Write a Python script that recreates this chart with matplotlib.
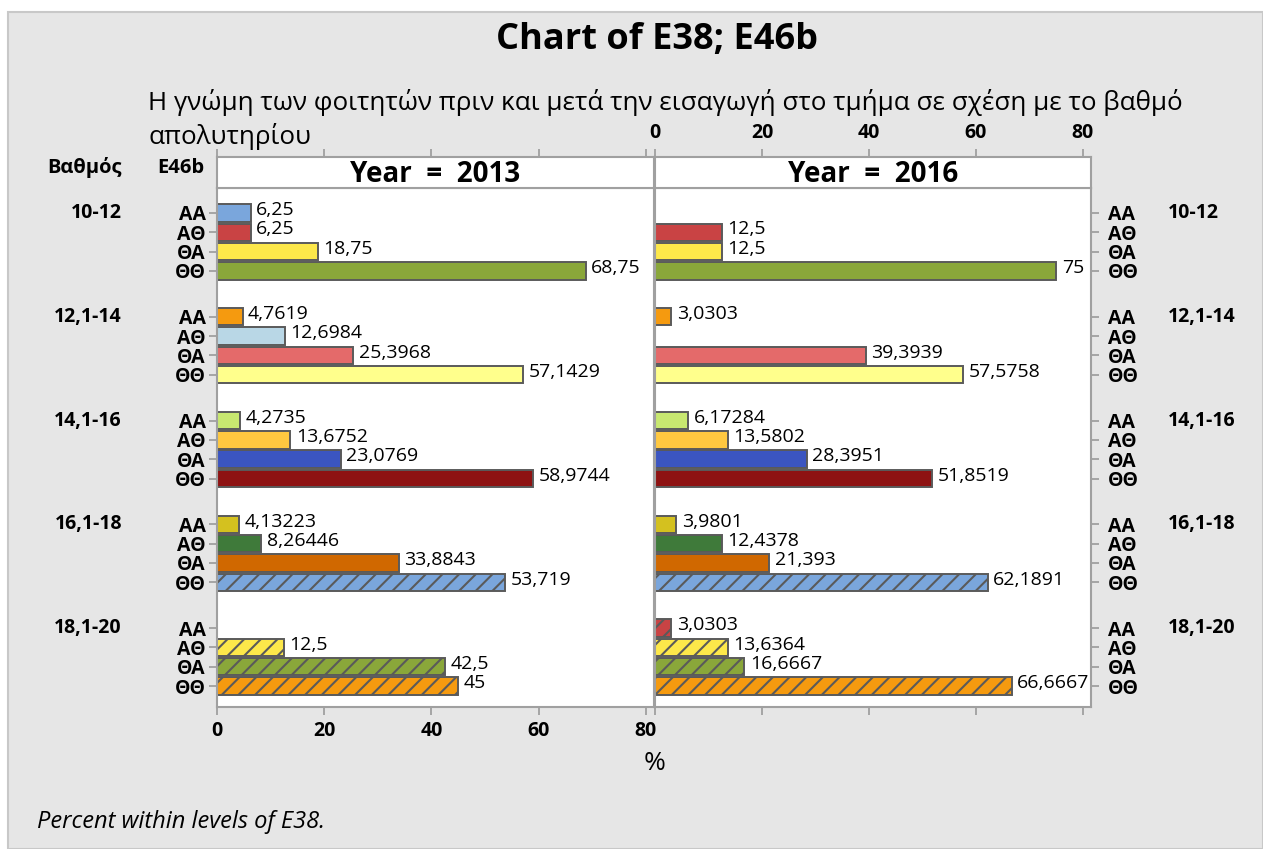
import matplotlib
matplotlib.use('Agg')
import matplotlib.pyplot as plt
from matplotlib.patches import Rectangle
from matplotlib.transforms import blended_transform_factory

plt.rcParams['font.family'] = ['Open Sans', 'DejaVu Sans']
plt.rcParams['hatch.linewidth'] = 1.5

# data (percent within levels of E38)
groups = ['10-12', '12,1-14', '14,1-16', '16,1-18', '18,1-20']
e46b = ['ΑΑ', 'ΑΘ', 'ΘΑ', 'ΘΘ']
years = ['2013', '2016']
pct_2013 = [[6.25, 6.25, 18.75, 68.75],
            [4.7619, 12.6984, 25.3968, 57.1429],
            [4.2735, 13.6752, 23.0769, 58.9744],
            [4.13223, 8.26446, 33.8843, 53.719],
            [None, 12.5, 42.5, 45]]
pct_2016 = [[None, 12.5, 12.5, 75],
            [3.0303, None, 39.3939, 57.5758],
            [6.17284, 13.5802, 28.3951, 51.8519],
            [3.9801, 12.4378, 21.393, 62.1891],
            [3.0303, 13.6364, 16.6667, 66.6667]]
xticks = [0, 20, 40, 60, 80]

# Minitab style fill cycle: 15 solid colours, then the first ones again hatched
fills = ['#7aa6dc', '#c94344', '#fde84a', '#8aa73a', '#f59a0f',
         '#b9d7e6', '#e46a6a', '#ffff8c', '#c8e870', '#ffc840',
         '#3b55c1', '#8e1212', '#d4c11f', '#3f7a3a', '#d06800']

W, H = 1263, 849
fig = plt.figure(figsize=(W / 100, H / 100), dpi=100, facecolor='white')


def fx(px):
    return px / W


def fy(py):
    return 1 - py / H


# gray background panel
bg = Rectangle((fx(8), 0), 1 - fx(8), fy(12), transform=fig.transFigure,
               facecolor='#e6e6e6', edgecolor='#c8c8c8', linewidth=1.5, zorder=-10)
fig.add_artist(bg)

fig.text(fx(657), fy(40), 'Chart of E38; E46b', ha='center', va='center',
         fontsize=26, fontweight='bold')
fig.text(fx(148), fy(103), 'Η γνώμη των φοιτητών πριν και μετά την εισαγωγή στο τμήμα σε σχέση με το βαθμό',
         ha='left', va='center', fontsize=18.7)
fig.text(fx(148), fy(137), 'απολυτηρίου', ha='left', va='center', fontsize=18.7)

fig.text(fx(122), fy(168), 'Βαθμός', ha='right', va='center', fontsize=14.5, fontweight='bold')
fig.text(fx(204), fy(168), 'E46b', ha='right', va='center', fontsize=14.5, fontweight='bold')

gpitch = 5.37
ypos = [g * gpitch + i for g in range(len(groups)) for i in range(len(e46b))]
ylabels = [lab for g in groups for lab in e46b]

panels = [(217, 654, pct_2013), (655, 1091, pct_2016)]
gray = '#a0a0a0'
for k, (x0, x1, data) in enumerate(panels):
    ax = fig.add_axes([fx(x0), fy(707), fx(x1) - fx(x0), fy(188) - fy(707)])
    ax.set_facecolor('white')
    for g in range(len(groups)):
        for i in range(len(e46b)):
            v = data[g][i]
            idx = g * len(e46b) + i
            if v is not None:
                col = fills[idx % len(fills)]
                hatch = '//' if idx >= len(fills) else None
                ax.barh(ypos[idx], v, height=0.9, color=col, edgecolor='#5a5a5a',
                        linewidth=1.4, hatch=hatch, zorder=2)
                ax.annotate(f'{v:g}'.replace('.', ','), (v, ypos[idx]), xytext=(4, 2),
                            textcoords='offset points', ha='left', va='center', fontsize=14)
    ax.set_xlim(0, 81.5)
    ax.set_ylim(25.56, -1.29)
    ax.set_xticks(xticks)
    ax.set_yticks(ypos)
    for s in ax.spines.values():
        s.set_color(gray)
        s.set_linewidth(1.5)
    ax.tick_params(axis='x', length=6, color=gray, width=1.3, labelsize=14, pad=4)
    ax.tick_params(axis='y', length=6, color=gray, width=1.3, labelsize=14, pad=2)
    if k == 0:
        ax.set_yticklabels(ylabels)
        ax.set_xticklabels([str(t) for t in xticks])
    else:
        ax.yaxis.tick_right()
        ax.tick_params(axis='y', pad=6)
        ax.set_yticklabels(ylabels)
        ax.set_xticklabels([])
    for t in ax.get_yticklabels() + ax.get_xticklabels():
        t.set_fontweight('bold')

    tr = blended_transform_factory(fig.transFigure, ax.transData)
    for g, name in enumerate(groups):
        if k == 0:
            ax.text(fx(122), g * gpitch, name, transform=tr, ha='right', va='center',
                    fontsize=14, fontweight='bold')
        else:
            ax.text(fx(1168), g * gpitch, name, transform=tr, ha='left', va='center',
                    fontsize=14, fontweight='bold')

    # strip header with top axis
    sax = fig.add_axes([fx(x0), fy(188), fx(x1) - fx(x0), fy(157) - fy(188)])
    sax.set_facecolor('white')
    sax.set_xlim(0, 81.5)
    sax.set_yticks([])
    sax.xaxis.tick_top()
    sax.set_xticks(xticks)
    sax.tick_params(axis='x', length=6, color=gray, width=1.3, labelsize=14, pad=4)
    if k == 1:
        sax.set_xticklabels([str(t) for t in xticks], fontweight='bold')
    else:
        sax.set_xticklabels([])
    for s in sax.spines.values():
        s.set_color(gray)
        s.set_linewidth(1.5)
    sax.text(0.5, 0.45, 'Year  =  ' + years[k], transform=sax.transAxes, ha='center',
             va='center', fontsize=20, fontweight='bold')

fig.text(fx(655), fy(764), '%', ha='center', va='center', fontsize=19)
fig.text(fx(37), fy(822), 'Percent within levels of E38.', ha='left', va='center',
         fontsize=17, style='italic')

plt.savefig('out.png', dpi=100, facecolor=fig.get_facecolor())
